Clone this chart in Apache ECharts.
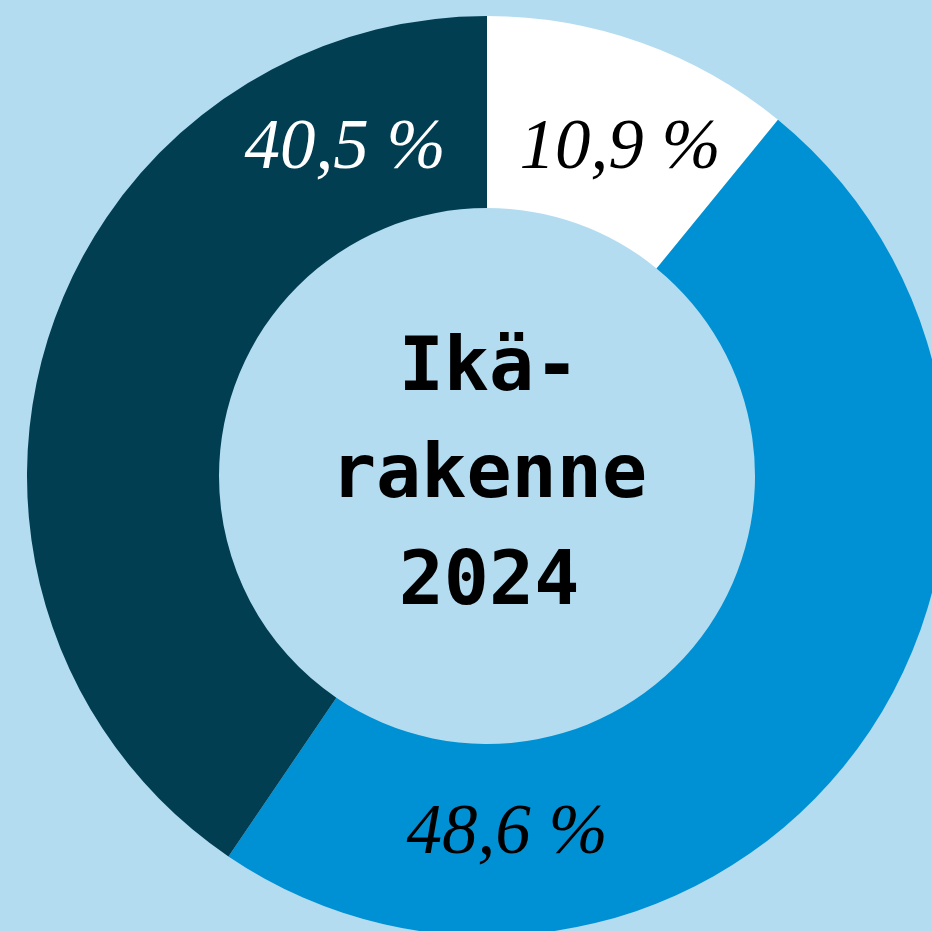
<!DOCTYPE html>
<html>
<head>
<meta charset="utf-8">
<script src="https://cdn.jsdelivr.net/npm/echarts@6/dist/echarts.min.js"></script>
<style>
  html, body { margin: 0; padding: 0; background: #b3dcf0; }
  #chart { width: 932px; height: 931px; }
</style>
</head>
<body>
<div id="chart"></div>
<script>
// Age structure 2024, shares in percent (clockwise from the top)
const groups = ['0–14', '15–64', '65+'];
const shares = [10.9, 48.6, 40.5];
const sliceColors = ['#ffffff', '#0091d4', '#023e51'];
const labelColors = ['#000000', '#000000', '#ffffff'];
// Label anchor points inside each slice (px)
const labelSpots = [[620, 149], [507, 834], [345, 149]];
const centreLines = ['Ikä-', 'rakenne', '2024'];

const fmt = v => v.toFixed(1).replace('.', ',') + ' %';

const chart = echarts.init(document.getElementById('chart'));
chart.setOption({
  backgroundColor: '#b3dcf0',
  animation: false,
  series: [{
    type: 'pie',
    center: [487, 476],
    radius: [268, 460],
    startAngle: 90,
    clockwise: true,
    silent: true,
    data: shares.map((v, i) => ({
      name: groups[i],
      value: v,
      itemStyle: { color: sliceColors[i] },
      label: { color: labelColors[i] }
    })),
    label: {
      show: true,
      position: 'inside',
      formatter: p => fmt(p.value),
      fontFamily: 'Liberation Serif',
      fontStyle: 'italic',
      fontSize: 71
    },
    labelLine: { show: false },
    labelLayout: p => ({
      x: labelSpots[p.dataIndex][0],
      y: labelSpots[p.dataIndex][1],
      align: 'center',
      verticalAlign: 'middle'
    })
  }],
  graphic: [{
    type: 'text',
    x: 489,
    y: 317,
    style: {
      text: centreLines.join('\n'),
      fontFamily: 'DejaVu Sans Mono',
      fontWeight: 'bold',
      fontSize: 75,
      lineHeight: 107,
      fill: '#000000',
      align: 'center',
      verticalAlign: 'top'
    }
  }]
});
</script>
</body>
</html>
